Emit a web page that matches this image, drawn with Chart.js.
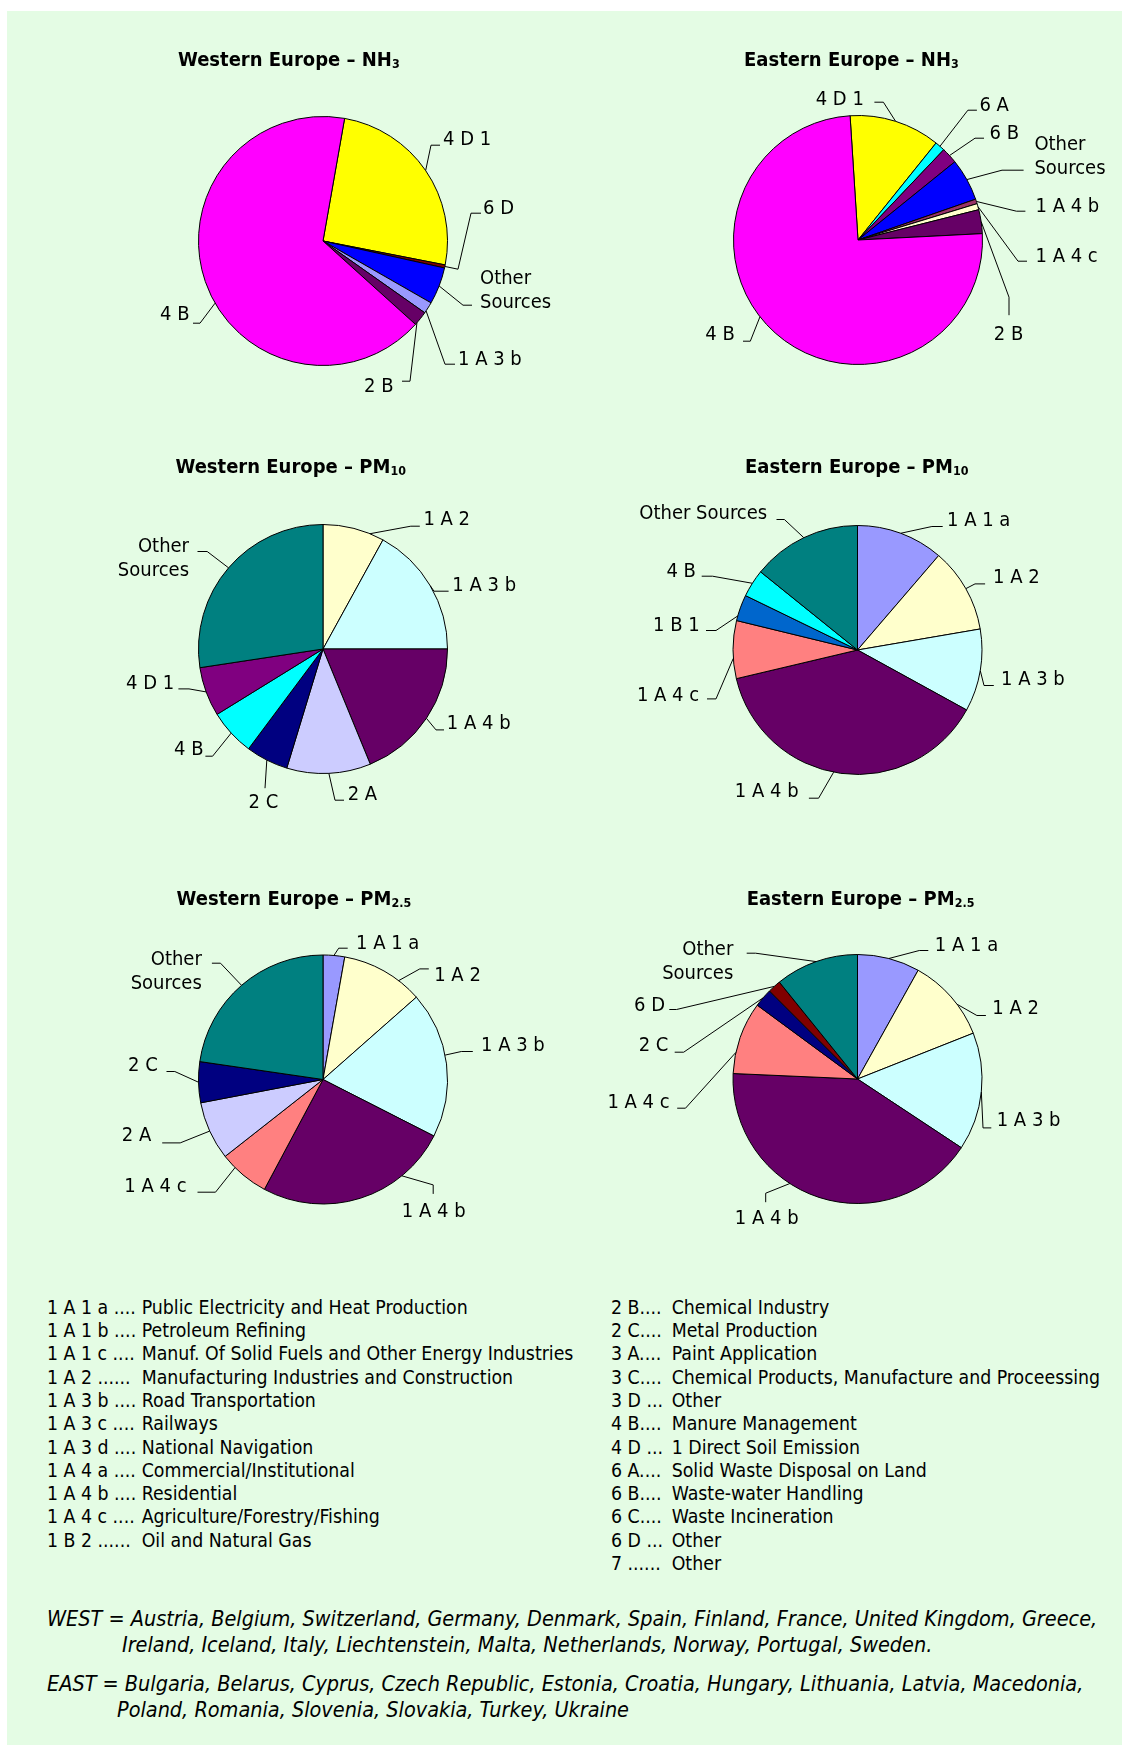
<!DOCTYPE html>
<html><head><meta charset="utf-8">
<script src="https://cdn.jsdelivr.net/npm/chart.js@4.4.1/dist/chart.umd.min.js"></script>
<style>
html,body{margin:0;padding:0;background:#fff;}
#page{position:relative;width:1129px;height:1751px;overflow:hidden;background:#fff;}
#panel{position:absolute;left:7px;top:11px;width:1115px;height:1734px;background:#E4FCE4;}
canvas{position:absolute;}
.t{position:absolute;white-space:nowrap;color:#000;line-height:24px;height:24px;}
.title{font-weight:bold;}
.title sub{font-size:0.62em;vertical-align:-0.2em;line-height:0;}
.foot{font-style:italic;}
</style></head>
<body><div id="page"><div id="panel"></div></div>
<script>
// ---------------- DATA ----------------
const westNH3Labels = ['4 D 1', '6 D', 'Other Sources', '1 A 3 b', '2 B', '4 B'];
const westNH3Values = [25.3, 0.4, 4.8, 1.5, 1.9, 66.1];

const eastNH3Labels = ['4 D 1', '6 A', '6 B', 'Other Sources', '1 A 4 b', '1 A 4 c', '2 B', '4 B'];
const eastNH3Values = [11.8, 1.3, 2.1, 5.5, 0.6, 0.8, 3.1, 74.8];

const westPM10Labels = ['1 A 2', '1 A 3 b', '1 A 4 b', '2 A', '2 C', '4 B', '4 D 1', 'Other Sources'];
const westPM10Values = [8.0, 17.0, 18.8, 10.9, 5.5, 6.0, 6.4, 27.4];

const eastPM10Labels = ['1 A 1 a', '1 A 2', '1 A 3 b', '1 A 4 b', '1 A 4 c', '1 B 1', '4 B', 'Other Sources'];
const eastPM10Values = [11.3, 11.0, 10.7, 38.3, 7.5, 3.4, 3.6, 14.2];

const westPM25Labels = ['1 A 1 a', '1 A 2', '1 A 3 b', '1 A 4 b', '1 A 4 c', '2 A', '2 C', 'Other Sources'];
const westPM25Values = [2.8, 10.7, 19.0, 25.3, 6.6, 7.6, 5.3, 22.7];

const eastPM25Labels = ['1 A 1 a', '1 A 2', '1 A 3 b', '1 A 4 b', '1 A 4 c', '2 C', '6 D', 'Other Sources'];
const eastPM25Values = [8.1, 10.9, 15.3, 41.4, 9.4, 2.4, 1.7, 10.8];

const chartTitles = ['Western Europe \u2013 NH', 'Eastern Europe \u2013 NH', 'Western Europe \u2013 PM', 'Eastern Europe \u2013 PM', 'Western Europe \u2013 PM', 'Eastern Europe \u2013 PM'];
const chartTitleSubs = ['3', '3', '10', '10', '2.5', '2.5'];

const glossLeftCodes = ['1 A 1 a ....', '1 A 1 b ....', '1 A 1 c ....', '1 A 2 ......', '1 A 3 b ....', '1 A 3 c ....', '1 A 3 d ....', '1 A 4 a ....', '1 A 4 b ....', '1 A 4 c ....', '1 B 2 ......'];
const glossLeftTexts = ['Public Electricity and Heat Production', 'Petroleum Refining', 'Manuf. Of Solid Fuels and Other Energy Industries', 'Manufacturing Industries and Construction', 'Road Transportation', 'Railways', 'National Navigation', 'Commercial/Institutional', 'Residential', 'Agriculture/Forestry/Fishing', 'Oil and Natural Gas'];
const glossRightCodes = ['2 B....', '2 C....', '3 A....', '3 C....', '3 D ...', '4 B....', '4 D ...', '6 A....', '6 B....', '6 C....', '6 D ...', '7 ......'];
const glossRightTexts = ['Chemical Industry', 'Metal Production', 'Paint Application', 'Chemical Products, Manufacture and Proceessing', 'Other', 'Manure Management', '1 Direct Soil Emission', 'Solid Waste Disposal on Land', 'Waste-water Handling', 'Waste Incineration', 'Other', 'Other'];

const westCountries = ['Austria', 'Belgium', 'Switzerland', 'Germany', 'Denmark', 'Spain', 'Finland', 'France', 'United Kingdom', 'Greece', 'Ireland', 'Iceland', 'Italy', 'Liechtenstein', 'Malta', 'Netherlands', 'Norway', 'Portugal', 'Sweden'];
const eastCountries = ['Bulgaria', 'Belarus', 'Cyprus', 'Czech Republic', 'Estonia', 'Croatia', 'Hungary', 'Lithuania', 'Latvia', 'Macedonia', 'Poland', 'Romania', 'Slovenia', 'Slovakia', 'Turkey', 'Ukraine'];

// ---------------- STYLES / LAYOUT ----------------
const westNH3Colors = ['#FFFF00', '#800000', '#0000FF', '#9999FF', '#660066', '#FF00FF'];
const eastNH3Colors = ['#FFFF00', '#00FFFF', '#800080', '#0000FF', '#993366', '#FFFFCC', '#660066', '#FF00FF'];
const westPM10Colors = ['#FFFFCC', '#CCFFFF', '#660066', '#CCCCFF', '#000080', '#00FFFF', '#800080', '#008080'];
const eastPM10Colors = ['#9999FF', '#FFFFCC', '#CCFFFF', '#660066', '#FF8080', '#0066CC', '#00FFFF', '#008080'];
const westPM25Colors = ['#9999FF', '#FFFFCC', '#CCFFFF', '#660066', '#FF8080', '#CCCCFF', '#000080', '#008080'];
const eastPM25Colors = ['#9999FF', '#FFFFCC', '#CCFFFF', '#660066', '#FF8080', '#000080', '#800000', '#008080'];

// label layouts relative to pie centre (text anchor, leader elbow points, attach fraction along slice arc)
const westNH3Layout = [
  {x:120, y:-103, pts:[[117,-98],[108,-98]]},
  {x:160, y:-34, pts:[[158,-30],[148,-30],[135,26]]},
  {x:157, y:36, wrap:true, pts:[[149,62],[140,62]]},
  {x:135, y:117, pts:[[132,121],[122,121]], t:0.8},
  {x:41, y:144, pts:[[79,138],[87,138]], t:0.85},
  {x:-163, y:72, pts:[[-130,80],[-123,80]], t:0.454}
];
const eastNH3Layout = [
  {x:-42.3, y:-142, pts:[[16.4,-140],[25.4,-140]]},
  {x:121.4, y:-136, pts:[[118.9,-132],[109.9,-132]]},
  {x:131.5, y:-108, pts:[[126,-104],[117,-104]]},
  {x:176.4, y:-97, wrap:true, pts:[[165.6,-72],[144,-72]]},
  {x:177.5, y:-35, pts:[[167.4,-31],[158.4,-31]]},
  {x:177.5, y:15, pts:[[169,19],[160,19]]},
  {x:135.8, y:93, pts:[[151,73],[151,55]]},
  {x:-152.7, y:93, pts:[[-115,99],[-107.7,99]], t:0.538}
];
const westPM10Layout = [
  {x:100.4, y:-131, pts:[[96.8,-125],[87.8,-125]], t:0.77},
  {x:129.3, y:-65, pts:[[125.6,-60],[111,-60]]},
  {x:123.8, y:72.7, pts:[[121,78.7],[113,78.7]]},
  {x:24.7, y:143.7, pts:[[21,149],[12,149]]},
  {x:-74.4, y:151.7, pts:[[-58,137]]},
  {x:-149, y:99, pts:[[-117.6,105],[-110.4,105]]},
  {x:-197, y:32.7, pts:[[-144.6,37.7],[-134,37.7]]},
  {x:-134, y:-104, align:'right', wrap:true, pts:[[-125.5,-99.7],[-115.8,-99.7]]}
];
const eastPM10Layout = [
  {x:89.5, y:-131.7, pts:[[85.2,-125.7],[74.4,-125.7]]},
  {x:135.5, y:-74.3, pts:[[127.6,-68.3],[117.5,-68.3]]},
  {x:143.5, y:27.3, pts:[[136.3,33.3],[126.5,33.3]]},
  {x:-122.7, y:140, pts:[[-48.6,146],[-38.9,146]], t:0.524},
  {x:-220.6, y:43.3, pts:[[-150.5,46.7],[-141.5,46.7]], t:0.35},
  {x:-204.5, y:-26.7, pts:[[-151.5,-21.7],[-141.5,-21.7]], t:0.18},
  {x:-191.1, y:-80.7, pts:[[-155.8,-76],[-145,-76]]},
  {x:-90.3, y:-138.3, align:'right', pts:[[-81,-132.7],[-73.1,-132.7]]}
];
const westPM25Layout = [
  {x:33, y:-137.8, pts:[[24.7,-133.5],[15.7,-133.5]]},
  {x:111.2, y:-106.2, pts:[[105.8,-112.8],[96.8,-112.8]], t:0.71},
  {x:158, y:-35.5, pts:[[149.8,-30.2],[138.3,-30.2]], t:0.44},
  {x:78.8, y:130.5, pts:[[110.2,112.2],[110.2,103.2]], t:0.26},
  {x:-198.7, y:105.5, pts:[[-125.5,110.5],[-107.5,110.5]], t:0.71},
  {x:-201.2, y:53.8, pts:[[-160.8,61.2],[-142.8,61.2]]},
  {x:-195, y:-16.2, pts:[[-156.5,-10.2],[-148.2,-10.2]]},
  {x:-121.2, y:-121.8, align:'right', wrap:true, pts:[[-111.1,-118.5],[-102.5,-118.5]]}
];
const eastPM25Layout = [
  {x:77.3, y:-135.7, pts:[[70.8,-130.7],[61.8,-130.7]]},
  {x:134.8, y:-72.3, pts:[[128.4,-65.7],[119.4,-65.7]], t:0.61},
  {x:139.2, y:39.3, pts:[[133.8,46.7],[125.5,46.7]]},
  {x:-122.7, y:137.7, pts:[[-91.8,121],[-91.8,112]], t:0.6},
  {x:-250.1, y:21.7, pts:[[-180.3,27],[-172,27]], t:0.29},
  {x:-218.8, y:-35.7, pts:[[-182.8,-29],[-173.8,-29]]},
  {x:-223.5, y:-75.7, pts:[[-188.2,-71.7],[-181,-71.7]]},
  {x:-124.2, y:-131.7, align:'right', wrap:true, pts:[[-110.8,-128],[-101.9,-128]]}
];

// ---------------- FONT PICK ----------------
function hasFont(name){
  const c = document.createElement('canvas').getContext('2d');
  const s = 'Other Sources 1 A 3 b mmmwwwiiiQQ';
  c.font = '40px monospace'; const a = c.measureText(s).width;
  c.font = '40px "' + name + '", monospace'; const b = c.measureText(s).width;
  return Math.abs(a - b) > 0.5;
}
const COND = hasFont('DejaVu Sans Condensed');
const FAM = COND ? '"DejaVu Sans Condensed"' : '"DejaVu Sans"';
const FS = COND ? 20 : 18;
const LABEL_DY = 2.2;

const page = document.getElementById('page');

function addText(cls, html, left, yc, size){
  const d = document.createElement('div');
  d.className = 't ' + cls;
  d.innerHTML = html;
  d.style.left = left + 'px';
  d.style.top = (yc - 12) + 'px';
  d.style.fontFamily = FAM;
  d.style.fontSize = (size || FS) + 'px';
  page.appendChild(d);
  return d;
}

// ---------------- CHARTS ----------------
const leaderPlugin = {
  id: 'leaderLabels',
  afterDatasetsDraw(chart, args, opts){
    const ctx = chart.ctx;
    const meta = chart.getDatasetMeta(0);
    ctx.save();
    ctx.strokeStyle = '#000';
    ctx.lineWidth = 1;
    ctx.fillStyle = '#000';
    ctx.font = FS + 'px ' + FAM;
    ctx.textBaseline = 'middle';
    meta.data.forEach((arc, i) => {
      const L = opts.items[i];
      if (!L) return;
      const p = arc.getProps(['x','y','startAngle','endAngle','outerRadius'], true);
      const a = p.startAngle + (p.endAngle - p.startAngle) * (L.t == null ? 0.5 : L.t);
      const ex = p.x + Math.cos(a) * p.outerRadius;
      const ey = p.y + Math.sin(a) * p.outerRadius;
      ctx.beginPath();
      L.pts.forEach((q, j) => {
        const X = p.x + q[0], Y = p.y + q[1] + LABEL_DY;
        if (j) ctx.lineTo(X, Y); else ctx.moveTo(X, Y);
      });
      ctx.lineTo(ex, ey);
      ctx.stroke();
      const label = chart.data.labels[i];
      const lines = L.wrap ? label.split(' ') : [label];
      ctx.textAlign = L.align || 'left';
      lines.forEach((s, k) => ctx.fillText(s, p.x + L.x, p.y + L.y + LABEL_DY + k * 24));
    });
    ctx.restore();
  }
};

const chartDefs = [
  {labels: westNH3Labels, values: westNH3Values, colors: westNH3Colors, layout: westNH3Layout, rotation: 10, center: [323, 241], region: [0, 0, 565, 430], titlePos: [178, 59]},
  {labels: eastNH3Labels, values: eastNH3Values, colors: eastNH3Colors, layout: eastNH3Layout, rotation: -3.65, center: [858, 240], region: [565, 0, 564, 430], titlePos: [744, 59]},
  {labels: westPM10Labels, values: westPM10Values, colors: westPM10Colors, layout: westPM10Layout, rotation: 0, center: [323, 649], region: [0, 430, 565, 430], titlePos: [175.5, 466]},
  {labels: eastPM10Labels, values: eastPM10Values, colors: eastPM10Colors, layout: eastPM10Layout, rotation: 0, center: [857.5, 650], region: [565, 430, 564, 430], titlePos: [745, 466]},
  {labels: westPM25Labels, values: westPM25Values, colors: westPM25Colors, layout: westPM25Layout, rotation: 0, center: [323, 1079.5], region: [0, 860, 565, 430], titlePos: [176.6, 898]},
  {labels: eastPM25Labels, values: eastPM25Values, colors: eastPM25Colors, layout: eastPM25Layout, rotation: 0, center: [857.5, 1079], region: [565, 860, 564, 430], titlePos: [746.7, 898]}
];

chartDefs.forEach((c, idx) => {
  const [x0, y0, w, h] = c.region;
  const cv = document.createElement('canvas');
  cv.width = w; cv.height = h;
  cv.style.left = x0 + 'px'; cv.style.top = y0 + 'px';
  cv.style.width = w + 'px'; cv.style.height = h + 'px';
  page.appendChild(cv);
  const lx = c.center[0] - x0, ly = c.center[1] - y0;
  const pad = {
    left: Math.max(0, 2 * lx - w), right: Math.max(0, w - 2 * lx),
    top: Math.max(0, 2 * ly - h), bottom: Math.max(0, h - 2 * ly)
  };
  new Chart(cv, {
    type: 'pie',
    data: {
      labels: c.labels,
      datasets: [{data: c.values, backgroundColor: c.colors, borderColor: '#000', borderWidth: 1}]
    },
    options: {
      responsive: false,
      animation: false,
      devicePixelRatio: 1,
      rotation: c.rotation,
      radius: 124.5,
      layout: {padding: pad},
      events: [],
      plugins: {
        legend: {display: false},
        tooltip: {enabled: false},
        title: {display: false},
        leaderLabels: {items: c.layout}
      }
    },
    plugins: [leaderPlugin]
  });
  addText('title', chartTitles[idx] + '<sub>' + chartTitleSubs[idx] + '</sub>', c.titlePos[0], c.titlePos[1]);
});

// ---------------- GLOSSARY ----------------
const GS = FS * 0.966;
glossLeftCodes.forEach((code, i) => {
  const y = 1307.7 + 23.3 * i;
  addText('', code, 47, y, GS);
  addText('', glossLeftTexts[i], 141.7, y, GS);
});
glossRightCodes.forEach((code, i) => {
  const y = 1307.7 + 23.3 * i;
  addText('', code, 611, y, GS);
  addText('', glossRightTexts[i], 671.7, y, GS);
});

// ---------------- FOOTER ----------------
const FTS = FS * 1.073;
addText('foot', 'WEST = ' + westCountries.slice(0, 10).join(', ') + ',', 47, 1619, FTS);
addText('foot', westCountries.slice(10).join(', ') + '.', 122, 1645, FTS);
addText('foot', 'EAST = ' + eastCountries.slice(0, 10).join(', ') + ',', 47, 1684, FTS);
addText('foot', eastCountries.slice(10).join(', '), 117, 1710, FTS);
</script>
</body></html>
